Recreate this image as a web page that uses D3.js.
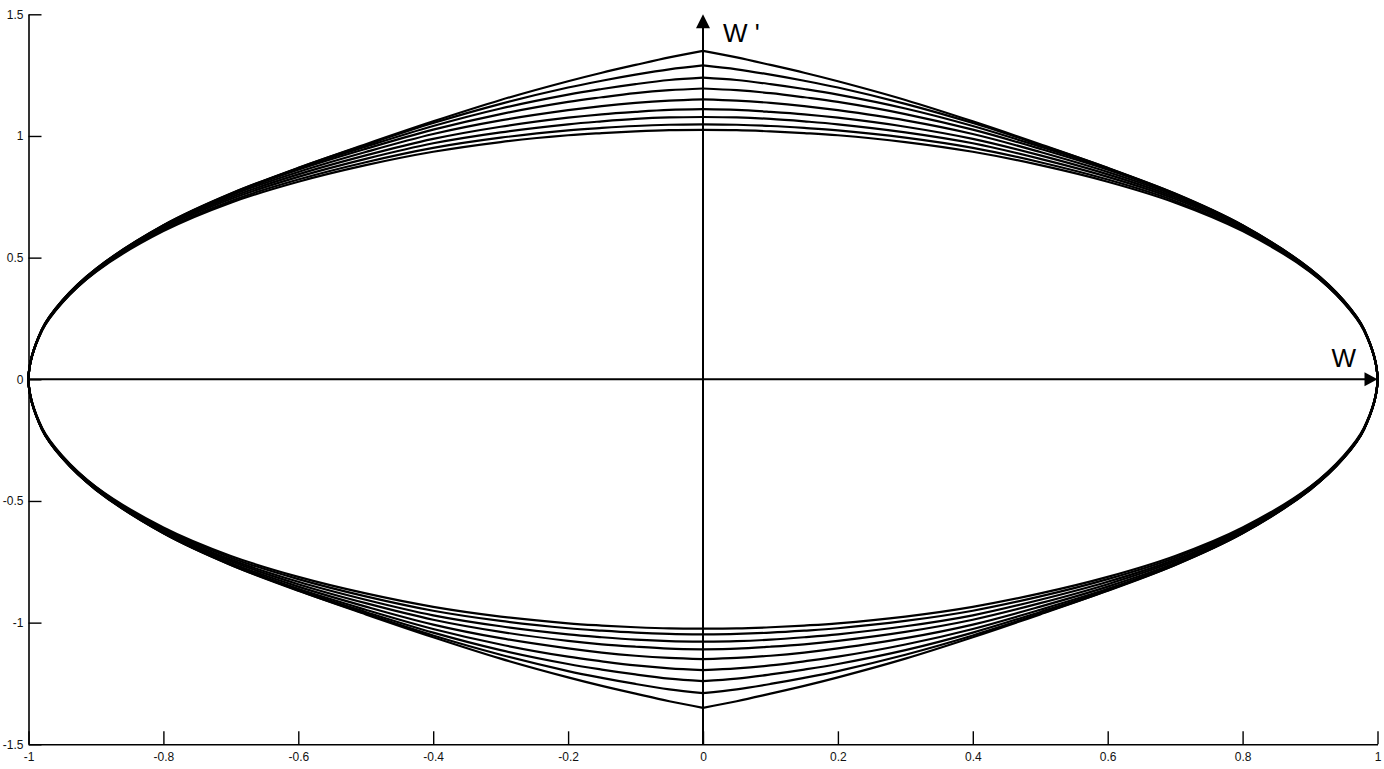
<!DOCTYPE html>
<html>
<head>
<meta charset="utf-8">
<script src="https://cdn.jsdelivr.net/npm/d3@7"></script>
<style>
  html, body { margin: 0; padding: 0; background: #fff; }
  svg { display: block; }
  text { font-family: "Liberation Sans", Arial, sans-serif; }
</style>
</head>
<body>
<svg id="chart" width="1384" height="769"></svg>
<script>
// W sample positions (right half; the left half is the mirror image)
const wSamples = [0, 0.05, 0.1, 0.15, 0.2, 0.3, 0.4, 0.5, 0.6, 0.7, 0.8, 0.9, 0.95, 0.98, 1];

// W' values (upper half) of each closed curve
const curve1 = [1.025, 1.024, 1.019, 1.012, 1.003, 0.975, 0.935, 0.880, 0.812, 0.726, 0.609, 0.442, 0.316, 0.202, 0];
const curve2 = [1.048, 1.046, 1.041, 1.033, 1.023, 0.993, 0.951, 0.892, 0.821, 0.733, 0.614, 0.445, 0.318, 0.203, 0];
const curve3 = [1.078, 1.076, 1.070, 1.060, 1.048, 1.015, 0.970, 0.906, 0.832, 0.741, 0.620, 0.448, 0.320, 0.204, 0];
const curve4 = [1.110, 1.107, 1.099, 1.089, 1.075, 1.038, 0.988, 0.920, 0.842, 0.748, 0.625, 0.451, 0.322, 0.205, 0];
const curve5 = [1.150, 1.145, 1.136, 1.123, 1.106, 1.064, 1.008, 0.934, 0.852, 0.755, 0.629, 0.453, 0.323, 0.205, 0];
const curve6 = [1.195, 1.188, 1.176, 1.159, 1.140, 1.090, 1.026, 0.947, 0.861, 0.760, 0.632, 0.454, 0.324, 0.206, 0];
const curve7 = [1.240, 1.230, 1.213, 1.193, 1.170, 1.113, 1.041, 0.956, 0.866, 0.763, 0.633, 0.454, 0.323, 0.205, 0];
const curve8 = [1.290, 1.274, 1.252, 1.227, 1.199, 1.132, 1.053, 0.963, 0.869, 0.763, 0.632, 0.451, 0.320, 0.203, 0];
const curve9 = [1.350, 1.323, 1.292, 1.260, 1.225, 1.148, 1.060, 0.966, 0.868, 0.758, 0.624, 0.443, 0.314, 0.199, 0];
const curves = [curve1, curve2, curve3, curve4, curve5, curve6, curve7, curve8, curve9];

const xTicks = [-1, -0.8, -0.6, -0.4, -0.2, 0, 0.2, 0.4, 0.6, 0.8, 1];
const xTickLabels = ["-1", "-0.8", "-0.6", "-0.4", "-0.2", "0", "0.2", "0.4", "0.6", "0.8", "1"];
const yTicks = [-1.5, -1, -0.5, 0, 0.5, 1, 1.5];
const yTickLabels = ["-1.5", "-1", "-0.5", "0", "0.5", "1", "1.5"];

const xAxisName = "W";
const yAxisName = "W '";

const svg = d3.select("#chart");
const x = d3.scaleLinear().domain([-1, 1]).range([28.5, 1377.5]);
const y = d3.scaleLinear().domain([-1.5, 1.5]).range([744.3, 14.3]);

// Curves: each drawn as a right half and a left half (cusps at W = 0)
const line = d3.line()
  .x(d => x(d[0]))
  .y(d => y(d[1]))
  .curve(d3.curveCatmullRom.alpha(0.5));

const gCurves = svg.append("g");
curves.forEach(vals => {
  [1, -1].forEach(side => {
    const pts = [];
    wSamples.forEach((w, i) => pts.push([side * w, vals[i]]));
    for (let i = wSamples.length - 2; i >= 0; i--) pts.push([side * wSamples[i], -vals[i]]);
    gCurves.append("path")
      .attr("d", line(pts))
      .attr("fill", "none")
      .attr("stroke", "#000")
      .attr("stroke-width", 2.2)
      .attr("stroke-linejoin", "round");
  });
});

// Frame axes (left and bottom) with inward ticks
const xAxis = d3.axisBottom(x).tickValues(xTicks)
  .tickFormat((d, i) => xTickLabels[i]).tickSizeInner(-13).tickSizeOuter(0).tickPadding(8);
const gx = svg.append("g").attr("transform", `translate(0,${y(-1.5)})`).call(xAxis);
gx.select(".domain").attr("stroke-width", 1.6);
gx.selectAll(".tick line").attr("stroke-width", 1.4);
gx.selectAll(".tick text").attr("font-size", 12).attr("fill", "#111")
  .attr("font-family", "Liberation Sans, Arial, sans-serif");

const yAxis = d3.axisLeft(y).tickValues(yTicks)
  .tickFormat((d, i) => yTickLabels[i]).tickSizeInner(-13).tickSizeOuter(0).tickPadding(5);
const gy = svg.append("g").attr("transform", `translate(${x(-1)},0)`).call(yAxis);
gy.select(".domain").attr("stroke-width", 1.6);
gy.selectAll(".tick line").attr("stroke-width", 1.4);
gy.selectAll(".tick text").attr("font-size", 12).attr("fill", "#111")
  .attr("font-family", "Liberation Sans, Arial, sans-serif");

// Arrow axes through the origin
const axG = svg.append("g");
axG.append("line")
  .attr("x1", x(-1)).attr("x2", x(1) - 10)
  .attr("y1", y(0)).attr("y2", y(0))
  .attr("stroke", "#000").attr("stroke-width", 2);
axG.append("path")
  .attr("d", `M${x(1)},${y(0)} L${x(1) - 13},${y(0) - 7} L${x(1) - 13},${y(0) + 7} Z`)
  .attr("fill", "#000");
axG.append("line")
  .attr("x1", x(0)).attr("x2", x(0))
  .attr("y1", y(-1.5)).attr("y2", y(1.5) + 10)
  .attr("stroke", "#000").attr("stroke-width", 2);
axG.append("path")
  .attr("d", `M${x(0)},${y(1.5)} L${x(0) - 7},${y(1.5) + 14} L${x(0) + 7},${y(1.5) + 14} Z`)
  .attr("fill", "#000");

// Axis names
svg.append("text")
  .attr("x", x(0) + 20).attr("y", y(1.5) + 28)
  .attr("font-size", 26).attr("fill", "#000")
  .text(yAxisName);
svg.append("text")
  .attr("x", x(1) - 46).attr("y", y(0) - 12)
  .attr("font-size", 26).attr("fill", "#000")
  .text(xAxisName);
</script>
</body>
</html>
